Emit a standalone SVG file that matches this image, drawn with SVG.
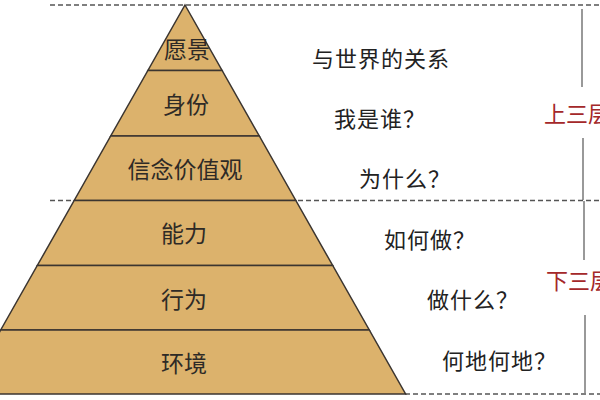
<svg xmlns="http://www.w3.org/2000/svg" width="600" height="400" viewBox="0 0 600 400">
  <style>
    .layer { fill: #dcb26c; stroke: #3b3530; stroke-width: 1.5; stroke-linejoin: miter; }
    .lbl { font-family: "Noto Sans CJK SC", "Noto Sans", sans-serif; font-size: 23px; fill: #2e2a26; text-anchor: middle; dominant-baseline: central; }
    .q { font-family: "Noto Sans CJK SC", "Noto Sans", sans-serif; font-size: 22px; letter-spacing: 1px; fill: #222; dominant-baseline: central; }
    .side { font-family: "Noto Sans CJK SC", "Noto Sans", sans-serif; font-size: 22px; fill: #a4282a; dominant-baseline: central; }
    .dash { stroke: #555; stroke-width: 1.3; stroke-dasharray: 5 3; fill: none; }
    .vline { stroke: #555; stroke-width: 1.2; fill: none; }
  </style>
  <rect width="600" height="400" fill="#ffffff"/>

  <g id="guides">
    <line class="dash" x1="50" y1="5" x2="600" y2="5"/>
    <line class="dash" x1="50" y1="200.5" x2="600" y2="200.5"/>
    <line class="dash" x1="405" y1="394" x2="600" y2="394"/>
    <line class="vline" x1="582" y1="9" x2="582" y2="87"/>
    <line class="vline" x1="583" y1="138" x2="583" y2="200"/>
    <line class="vline" x1="584" y1="201" x2="584" y2="260"/>
    <line class="vline" x1="585" y1="315" x2="585" y2="393"/>
  </g>

  <g id="layer-vision">
    <polygon class="layer" points="185,5 222.1,70.5 147.9,70.5"/>
    <text class="lbl" x="187" y="48">愿景</text>
  </g>
  <g id="layer-identity">
    <polygon class="layer" points="147.9,70.5 222.1,70.5 259.3,136 110.7,136"/>
    <text class="lbl" x="186" y="103">身份</text>
  </g>
  <g id="layer-beliefs">
    <polygon class="layer" points="110.7,136 259.3,136 295.8,200.5 74.2,200.5"/>
    <text class="lbl" x="185" y="168">信念价值观</text>
  </g>
  <g id="layer-ability">
    <polygon class="layer" points="74.2,200.5 295.8,200.5 332.7,265.5 37.3,265.5"/>
    <text class="lbl" x="184" y="232">能力</text>
  </g>
  <g id="layer-behavior">
    <polygon class="layer" points="37.3,265.5 332.7,265.5 369.3,330 0.7,330"/>
    <text class="lbl" x="184" y="298">行为</text>
  </g>
  <g id="layer-environment">
    <polygon class="layer" points="0.7,330 369.3,330 405.6,394 -35.6,394"/>
    <text class="lbl" x="184" y="362">环境</text>
  </g>

  <g id="questions">
    <text class="q" x="312" y="57">与世界的关系</text>
    <text class="q" x="334" y="117">我是谁？</text>
    <text class="q" x="359" y="177">为什么？</text>
    <text class="q" x="384" y="238">如何做？</text>
    <text class="q" x="427" y="298">做什么？</text>
    <text class="q" x="442" y="359">何地何地？</text>
  </g>

  <g id="side-labels">
    <text class="side" x="544" y="112">上三层</text>
    <text class="side" x="546" y="279">下三层</text>
  </g>
</svg>
